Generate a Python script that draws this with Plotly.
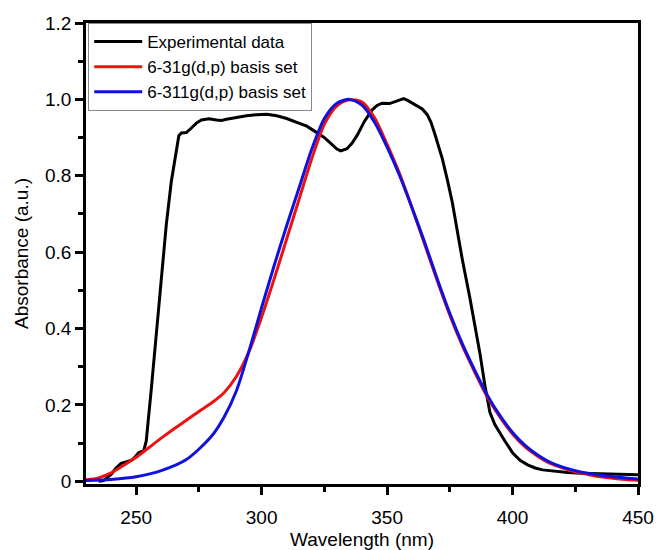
import plotly.graph_objects as go

# ---- Data ----
exp_wl = [235, 237, 240, 242, 244, 246, 248, 249, 251, 253, 254, 256, 258, 260, 262, 264,
          265.5, 267, 268, 270, 272, 274, 276, 279, 282, 284, 286, 289, 294, 298, 302, 306,
          310, 314, 318, 322, 325, 327, 330, 331.5, 334, 336, 338, 341, 344, 346, 348, 351,
          353, 355, 356.6, 358, 360, 362, 364, 366, 367.5, 369, 370, 372, 374, 376, 378, 380,
          383, 385, 387, 389, 391, 393, 395, 397, 400, 403, 406, 409, 412, 417, 422, 427,
          433, 440, 445, 450]
exp_abs = [0.0, 0.002, 0.018, 0.035, 0.047, 0.05, 0.055, 0.06, 0.075, 0.08, 0.105, 0.24,
           0.39, 0.525, 0.672, 0.785, 0.85, 0.905, 0.912, 0.913, 0.925, 0.938, 0.946, 0.949,
           0.946, 0.945, 0.948, 0.952, 0.957, 0.96, 0.961, 0.957, 0.95, 0.94, 0.93, 0.913,
           0.9, 0.888, 0.87, 0.865, 0.871, 0.885, 0.905, 0.943, 0.972, 0.984, 0.99, 0.989,
           0.993, 0.998, 1.002, 0.998, 0.99, 0.982, 0.975, 0.96, 0.94, 0.91, 0.89, 0.845,
           0.79, 0.73, 0.655, 0.58, 0.48, 0.41, 0.335, 0.25, 0.18, 0.148, 0.125, 0.105,
           0.075, 0.055, 0.043, 0.035, 0.03, 0.026, 0.023, 0.021, 0.02, 0.019, 0.018, 0.017]

b631_wl = [230, 235, 240, 245, 250, 255, 260, 265, 270, 275, 280, 285, 290, 295, 300, 305,
           310, 315, 320, 325, 330, 335, 340, 345, 350, 355, 360, 365, 370, 375, 380,
           385, 390, 395, 400, 405, 410, 415, 420, 425, 430, 435, 440, 445, 450]
b631_abs = [0.004, 0.009, 0.022, 0.042, 0.063, 0.088, 0.113, 0.137, 0.16, 0.183, 0.205,
            0.232, 0.275, 0.34, 0.43, 0.53, 0.635, 0.74, 0.845, 0.935, 0.983, 0.999, 0.993,
            0.952, 0.882, 0.805, 0.715, 0.62, 0.525, 0.435, 0.355, 0.285, 0.22, 0.168,
            0.124, 0.09, 0.066, 0.047, 0.035, 0.025, 0.018, 0.012, 0.008, 0.005, 0.003]

b6311_wl = [230, 240, 250, 260, 270, 280, 285, 290, 295, 300, 305, 310, 315, 320, 325, 330,
            335, 340, 345, 350, 355, 360, 365, 370, 375, 380, 385, 390, 395, 400, 405, 410,
            415, 420, 425, 430, 435, 440, 445, 450]
b6311_abs = [0.002, 0.005, 0.012, 0.028, 0.057, 0.118, 0.168, 0.238, 0.342, 0.455, 0.565,
             0.67, 0.77, 0.87, 0.95, 0.99, 1.0, 0.985, 0.94, 0.875, 0.80, 0.715, 0.625,
             0.53, 0.44, 0.36, 0.29, 0.225, 0.172, 0.128, 0.094, 0.069, 0.05, 0.037, 0.028,
             0.021, 0.016, 0.012, 0.009, 0.006]

series_names = ["Experimental data", "6-31g(d,p) basis set", "6-311g(d,p) basis set"]
series_colors = ["#000000", "#ee1111", "#1111dd"]
series_shapes = ["linear", "spline", "spline"]

x_ticks = [250, 300, 350, 400, 450]
y_ticks = [0, 0.2, 0.4, 0.6, 0.8, 1.0, 1.2]
y_ticktext = ["0", "0.2", "0.4", "0.6", "0.8", "1.0", "1.2"]

FONT = "Liberation Sans, Arial, sans-serif"

fig = go.Figure()
for xs, ys, name, col, shp in zip([exp_wl, b631_wl, b6311_wl],
                                  [exp_abs, b631_abs, b6311_abs],
                                  series_names, series_colors, series_shapes):
    line = dict(color=col, width=3, shape=shp)
    if shp == "spline":
        line["smoothing"] = 0.8
    fig.add_trace(go.Scatter(x=xs, y=ys, mode="lines", name=name, line=line))

fig.update_layout(
    width=661, height=550,
    margin=dict(l=86, r=23, t=23, b=66),
    paper_bgcolor="white", plot_bgcolor="white",
    font=dict(family=FONT, color="black"),
    showlegend=True,
    legend=dict(x=0.004, y=1.0, xanchor="left", yanchor="top",
                bgcolor="white", bordercolor="#888888", borderwidth=1,
                font=dict(size=17, family=FONT), tracegroupgap=0,
                itemwidth=48),
)
fig.update_xaxes(
    range=[230, 450], showgrid=False, zeroline=False, automargin=False,
    showline=True, linecolor="black", linewidth=2.5, mirror=True,
    ticks="outside", ticklen=8, tickwidth=2.5, tickcolor="black",
    tickvals=x_ticks, tickfont=dict(size=19), ticklabelstandoff=6,
    minor=dict(tickvals=[275, 325, 375, 425], ticks="outside", ticklen=5,
               tickwidth=2.5, tickcolor="black"),
    title=dict(text="Wavelength (nm)", font=dict(size=19), standoff=12),
)
fig.update_yaxes(
    range=[-0.007, 1.2], showgrid=False, zeroline=False, automargin=False,
    showline=True, linecolor="black", linewidth=2.5, mirror=True,
    ticks="outside", ticklen=8, tickwidth=2.5, tickcolor="black",
    tickvals=y_ticks, ticktext=y_ticktext, tickfont=dict(size=19),
    minor=dict(tickvals=[0.1, 0.3, 0.5, 0.7, 0.9, 1.1], ticks="outside", ticklen=5,
               tickwidth=2.5, tickcolor="black"),
    title=dict(text="Absorbance (a.u.)", font=dict(size=19), standoff=12),
)

fig.write_html("out.html")
